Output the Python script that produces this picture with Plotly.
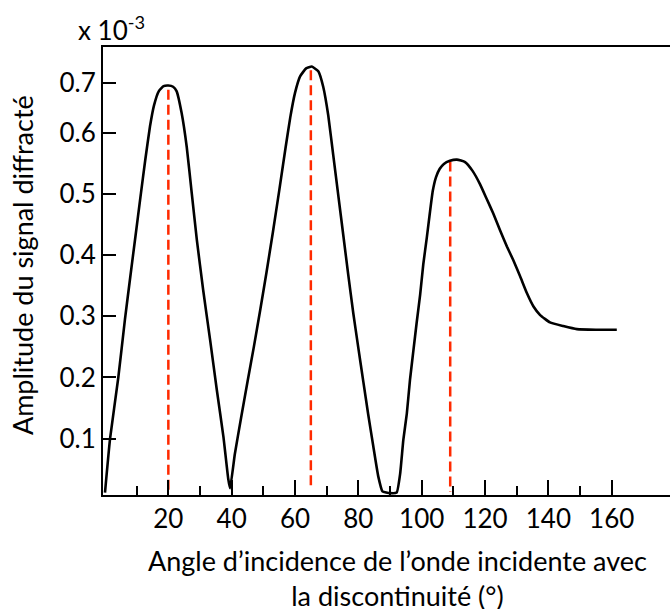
import plotly.graph_objects as go

# Curve (angle in degrees, amplitude x 1e-3)
angle = [0, 1.6, 4.2, 6.3, 8.0, 9.6, 11.2, 12.7, 14.2, 15.5, 17.0, 18.5, 20.0, 21.5, 22.6, 24.2, 25.8,
         27.4, 29.0, 31.0, 33.2, 35.3, 37.4, 38.9, 39.5,
         41.0, 43.0, 45.0, 47.0, 49.0, 51.0, 53.0, 55.0, 57.0, 58.5, 60.0, 61.6, 63.5, 65.3,
         67.4, 68.9, 70.5, 72.1, 73.7, 75.3, 76.8, 78.4, 80.0, 81.6, 83.1, 84.7, 86.3, 87.6,
         90.0, 92.1, 93.2, 94.2, 95.3, 96.3, 97.4, 98.4, 99.5, 100.5, 101.6, 102.6, 103.5,
         104.5, 105.7, 107.0, 108.9, 111.1, 113.7, 116.0, 118.4, 120.5, 122.6, 124.7,
         126.9, 128.9, 131.1, 133.2, 135.3, 137.4, 140.5, 144.7, 149.0, 155.0, 161.6]
amplitude = [0.012, 0.100, 0.200, 0.295, 0.365, 0.430, 0.495, 0.555, 0.610, 0.645, 0.668, 0.676, 0.677, 0.675, 0.668, 0.632, 0.577,
             0.501, 0.425, 0.343, 0.261, 0.180, 0.103, 0.035, 0.019,
             0.075, 0.135, 0.193, 0.250, 0.310, 0.372, 0.437, 0.505, 0.575, 0.625, 0.665, 0.692, 0.705, 0.708,
             0.700, 0.675, 0.628, 0.562, 0.496, 0.430, 0.368, 0.305, 0.248, 0.192, 0.140, 0.088, 0.038, 0.014,
             0.011, 0.012, 0.043, 0.098, 0.141, 0.196, 0.245, 0.289, 0.335, 0.385, 0.428, 0.470, 0.505,
             0.527, 0.541, 0.549, 0.554, 0.556, 0.552, 0.538, 0.516, 0.492, 0.468, 0.441,
             0.414, 0.392, 0.365, 0.338, 0.316, 0.302, 0.290, 0.284, 0.279, 0.278, 0.278]

# Red dashed markers under each peak
peak_angle = [20, 65, 109]
peak_top = [0.670, 0.702, 0.553]
peak_bottom = [0.016, 0.017, 0.013]

x_tick_vals = [20, 40, 60, 80, 100, 120, 140, 160]
x_tick_text = ["20", "40", "60", "80", "100", "120", "140", "160"]
x_minor_vals = [10, 30, 50, 70, 90, 110, 130, 150]
y_tick_vals = [0.1, 0.2, 0.3, 0.4, 0.5, 0.6, 0.682]
y_tick_text = ["0.1", "0.2", "0.3", "0.4", "0.5", "0.6", "0.7"]

x_title = "Angle d’incidence de l’onde incidente avec<br>la discontinuité (°)"
y_title = "Amplitude du signal diffracté"
scale_label = "x 10<sup>-3</sup>"

FONT = "Lato"
TICK_SIZE = 26
TITLE_SIZE = 27
fig = go.Figure()

for xa, yt, yb in zip(peak_angle, peak_top, peak_bottom):
    fig.add_trace(go.Scatter(x=[xa, xa], y=[yt, yb], mode="lines",
                             line=dict(color="#ff2a00", width=2.5, dash="10px,5px"),
                             hoverinfo="skip", showlegend=False))

fig.add_trace(go.Scatter(x=angle, y=amplitude, mode="lines",
                         line=dict(color="black", width=2.6, shape="spline", smoothing=0.4),
                         showlegend=False))

fig.update_layout(
    width=670, height=609,
    margin=dict(l=103, r=0, t=47, b=114),
    paper_bgcolor="white", plot_bgcolor="white",
    font=dict(family=FONT, size=TICK_SIZE, color="black"),
    xaxis=dict(range=[-0.63, 178.4], showgrid=False, zeroline=False,
               showline=True, linecolor="black", linewidth=2, mirror=True,
               tickmode="array", tickvals=x_tick_vals, ticktext=x_tick_text,
               ticks="inside", ticklen=15, tickwidth=2, tickcolor="black",
               ticklabelstandoff=0,
               minor=dict(tickmode="array", tickvals=x_minor_vals,
                          ticks="inside", ticklen=9, tickwidth=2, tickcolor="black", showgrid=False),
               tickfont=dict(family=FONT, size=TICK_SIZE, color="black")),
    yaxis=dict(range=[0.008, 0.740], showgrid=False, zeroline=False,
               showline=True, linecolor="black", linewidth=2, mirror=False,
               tickmode="array", tickvals=y_tick_vals, ticktext=y_tick_text,
               ticks="inside", ticklen=13, tickwidth=2, tickcolor="black",
               ticklabelstandoff=0,
               tickfont=dict(family=FONT, size=TICK_SIZE, color="black")),
    annotations=[
        dict(text=scale_label, xref="paper", yref="paper", x=-0.048, y=1.042,
             xanchor="left", yanchor="middle", showarrow=False,
             font=dict(family=FONT, size=TICK_SIZE, color="black")),
        dict(text=y_title, xref="paper", yref="paper", x=-0.143, y=0.513,
             xanchor="center", yanchor="middle", textangle=-90, showarrow=False,
             font=dict(family=FONT, size=TITLE_SIZE, color="black")),
        dict(text=x_title, xref="paper", yref="paper",
             x=0.52, y=-0.1842, xanchor="center", yanchor="middle", showarrow=False,
             align="center", font=dict(family=FONT, size=TITLE_SIZE, color="black")),
    ],
)

fig.write_html("out.html", config={"displayModeBar": False},
               post_script="document.body.style.margin='0';document.body.style.padding='0';")
